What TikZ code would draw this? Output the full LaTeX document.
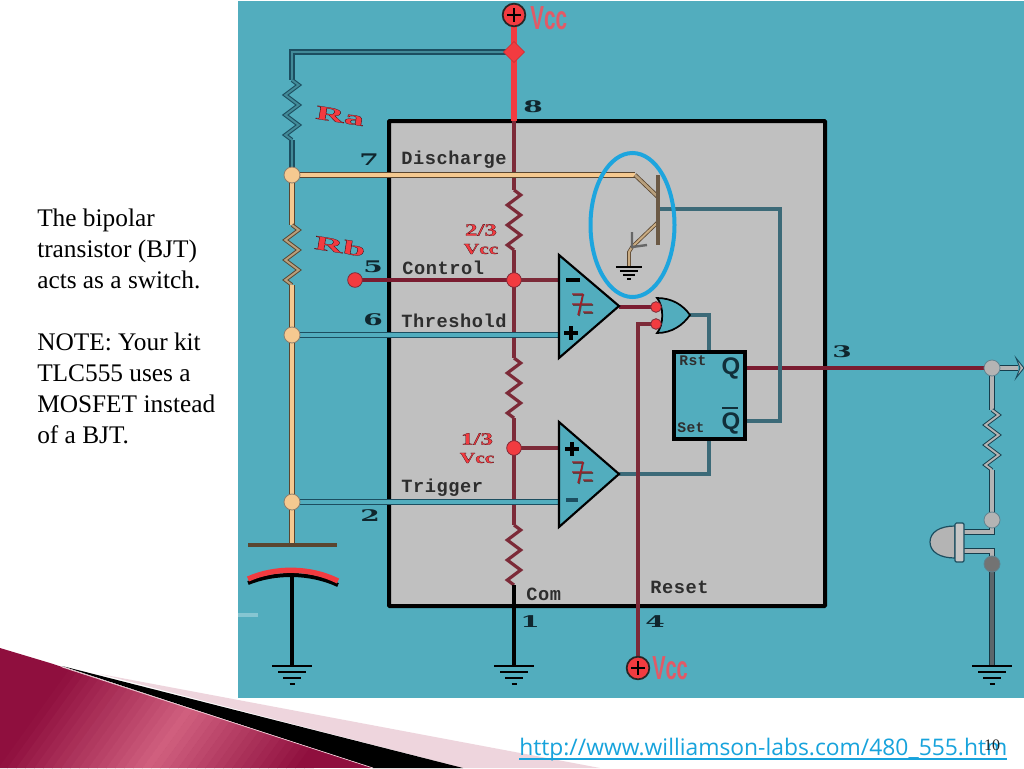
\documentclass[tikz,border=0pt]{standalone}
\usepackage{fontspec}
\usetikzlibrary{decorations.pathmorphing,shapes.geometric,calc}
\setmainfont{Liberation Serif}
\newfontfamily\labfont[LetterSpace=3]{Liberation Mono}
\newfontfamily\pinfont{DejaVu Serif}
\newfontfamily\urlfont{Open Sans}
\newfontfamily\sfnfont{Liberation Sans}
\newfontfamily\outfont[UprightFont=* Bold,FakeBold=1]{Liberation Serif}
\newcommand{\outred}[1]{\special{pdf:bcolor [0.95 0.23 0.25] [0.2 0.02 0.05]}#1\special{pdf:ecolor}}
\definecolor{tealbg}{HTML}{52ADBE}
\definecolor{greybox}{HTML}{C0C0C0}
\definecolor{vred}{HTML}{F23B40}
\definecolor{dred}{HTML}{7C2A38}
\definecolor{qred}{HTML}{7A1C30}
\definecolor{dteal}{HTML}{1C4E60}
\definecolor{mteal}{HTML}{3C6A78}
\definecolor{peach}{HTML}{F5C990}
\definecolor{tan}{HTML}{B89F7C}
\definecolor{brown}{HTML}{5A4630}
\definecolor{ringblue}{HTML}{1DA5DE}
\definecolor{linkblue}{HTML}{17A3DC}
\definecolor{labelgrey}{HTML}{2E2E2E}
\definecolor{pinblack}{HTML}{10262E}
\definecolor{vcctext}{HTML}{E25A66}
\definecolor{pinkband}{HTML}{EED5DD}
\definecolor{wine}{HTML}{8F0F3E}
\definecolor{wineb}{HTML}{D0607F}
\definecolor{ledgrey}{HTML}{B4B4B4}
\definecolor{outgrey}{HTML}{5C666A}
\pgfdeclarelayer{bg}\pgfdeclarelayer{wirelayer}
\pgfsetlayers{bg,wirelayer,main}
\tikzset{
  wirepeach/.style={draw=brown,double=peach,double distance=3pt,line width=.9pt},
  zigpeach/.style={draw=brown,double=tan,double distance=1.5pt,line width=.7pt,decoration={zigzag,segment length=15pt,amplitude=5pt},decorate},
  wiresig/.style={draw=dteal,double=tealbg,double distance=2.6pt,line width=1.1pt},
  wirera/.style={draw=dteal,double=tealbg!80!black,double distance=2.2pt,line width=1pt},
  zigra/.style={draw=dteal,double=tealbg!80!black,double distance=1.5pt,line width=.8pt,decoration={zigzag,segment length=15pt,amplitude=5pt},decorate},
  wireout/.style={draw=dteal!80!black,double=ledgrey,double distance=2.6pt,line width=1pt},
  zigout/.style={draw=dteal!80!black,double=ledgrey,double distance=1.5pt,line width=.7pt,decoration={zigzag,segment length=15pt,amplitude=5pt},decorate},
  wiredred/.style={draw=dred,line width=3pt},
  zigdred/.style={draw=dred,line width=2.4pt,decoration={zigzag,segment length=15pt,amplitude=5pt},decorate},
  wireq/.style={draw=qred,line width=3pt},
  wireteal/.style={draw=mteal,line width=3pt},
  wirevcc/.style={draw=vred,line width=4pt},
  pdot/.style={circle,draw=brown!70,fill=peach,line width=.6pt,minimum size=12pt,inner sep=0pt},
  rdot/.style={circle,draw=dred,fill=vred,line width=.6pt,minimum size=11pt,inner sep=0pt},
  gdot/.style={circle,draw=dteal!70,fill=ledgrey,line width=.6pt,minimum size=12pt,inner sep=0pt},
  vccdot/.style={circle,draw=black!85,fill=vred,line width=1.3pt,minimum size=17pt,inner sep=0pt},
  boxlabel/.style={anchor=west,inner sep=0pt,text=labelgrey,font=\labfont\bfseries\fontsize{14}{14}\selectfont},
  pinlabel/.style={inner sep=0pt,text=pinblack,font=\pinfont\bfseries\fontsize{12}{12}\selectfont},
  redlabel/.style={inner sep=0pt,font=\outfont\fontsize{#1}{#1}\selectfont},
  cmpfill/.style={fill=tealbg,draw=black,line width=1.6pt,line join=miter},
  gnd/.pic={
    \draw[black,line width=1.9pt] (-20,0)--(20,0);
    \draw[black,line width=1.9pt] (-14,6)--(14,6);
    \draw[black,line width=1.7pt] (-9,12)--(9,12);
    \draw[black,line width=1.9pt] (-2.5,18)--(2.5,18);
  },
  hyst/.pic={
    \draw[black!70,line width=1.2pt] (-9,-9)--(2,-9) (1,-9)--(-3,12) (-9,1)--(11,1) (2,9)--(11,9);
    \draw[dred!70!red,line width=1.1pt] (-10,-10)--(1,-10) (1,-10)--(-4,11) (-10,0)--(10,0) (1,8)--(10,8);
  },
}
\newcommand{\plusmark}[3]{\draw[black,line width=#3] ($(#1,#2)+(-7,0)$)--($(#1,#2)+(7,0)$) ($(#1,#2)+(0,-7)$)--($(#1,#2)+(0,7)$);}
\begin{document}
\begin{tikzpicture}[x=0.75pt,y=-0.75pt]
\useasboundingbox (0,0) rectangle (1024,768);
\begin{pgfonlayer}{bg}
  \fill[white] (0,0) rectangle (1024,768);
  \fill[tealbg] (238,1) rectangle (1024,698);
  \fill[pinkband] (100,674) -- (600,768) -- (463,768) -- cycle;
  \fill[black] (62,666) -- (463,768) -- (373,768) -- cycle;
  \begin{scope}
    \clip (0,648) -- (50,663) -- (373,768) -- (0,768) -- cycle;
    \fill[wine] (0,640) rectangle (380,768);
    \foreach \i in {0,...,34}{
      \pgfmathsetmacro{\xb}{-2+\i*9}
      \pgfmathsetmacro{\pct}{max(0,100-abs(\xb-143)/1.5)}
      \fill[wineb!\pct!wine] (\xb,768.5) -- (\xb+9.5,768.5) -- (\xb+9.5+96,635) -- (\xb+96,635) -- cycle;
    }
  \end{scope}
  \draw[white!70!wineb,line width=.5pt] (62,667) -- (373,768);
  \fill[tealbg!70!white] (238,613) rectangle (258,617);
  \draw[fill=greybox,draw=black,line width=3pt,rounded corners=.5pt] (389,121) rectangle (825,606);
\end{pgfonlayer}

% junctions and terminals
\node[vccdot] (vtop) at (514,15) {};
\node[diamond,fill=vred,draw=vred!80!black,minimum size=16pt,inner sep=0pt] (dtop) at (514,52) {};
\node[pdot] (jdis) at (292,175) {};
\node[pdot] (jthr) at (292,335) {};
\node[pdot] (jtrg) at (292,502) {};
\node[rdot] (jctl) at (355,280) {};
\node[rdot] (jtwo) at (514,280) {};
\node[rdot] (jone) at (514,448) {};
\node[vccdot] (vbot) at (638,668) {};
\node[gdot] (jout) at (992,368) {};
\node[gdot] (jledA) at (992,520) {};
\node[gdot,fill=black!55] (jledB) at (992,564) {};

\coordinate (raCorner) at (292,52);
\coordinate (raT) at (292,80);
\coordinate (raB) at (292,140);
\coordinate (rbT) at (292,225);
\coordinate (rbB) at (292,285);
\coordinate (plateA) at (292,545);
\coordinate (plateB) at (292,572);
\coordinate (g1) at (292,666);
\coordinate (g2) at (514,666);
\coordinate (g3) at (992,666);
\coordinate (boxTop) at (514,121);
\coordinate (r1T) at (514,190);
\coordinate (r1B) at (514,250);
\coordinate (r2T) at (514,358);
\coordinate (r2B) at (514,418);
\coordinate (r3T) at (514,525);
\coordinate (r3B) at (514,585);
\coordinate (cAminus) at (559,280);
\coordinate (cAplus) at (559,335);
\coordinate (cAout) at (619,307);
\coordinate (orA) at (656,307);
\coordinate (orB) at (656,324);
\coordinate (cBplus) at (559,448);
\coordinate (cBminus) at (559,502);
\coordinate (cBout) at (619,474);
\coordinate (orOut) at (690,315);
\coordinate (orBend) at (709,315);
\coordinate (ffRst) at (709,352);
\coordinate (ffSet) at (709,439);
\coordinate (setBend) at (709,474);
\coordinate (resetBend) at (638,324);
\coordinate (colBend) at (635,175);
\coordinate (colEnd) at (658,197);
\coordinate (baseOut) at (660,209);
\coordinate (baseBend) at (780,209);
\coordinate (qbarBend) at (780,421);
\coordinate (ffQbar) at (745,421);
\coordinate (ffQ) at (745,368);
\coordinate (emTop) at (658,222);
\coordinate (emMid) at (632,247);
\coordinate (emLow) at (629,252);
\coordinate (g4) at (629,267);
\coordinate (outTip) at (1018,368);
\coordinate (rlT) at (992,410);
\coordinate (rlB) at (992,470);
\coordinate (pinAa) at (963,532);
\coordinate (pinAb) at (992,532);
\coordinate (pinBa) at (963,551);
\coordinate (pinBb) at (992,551);

\begin{pgfonlayer}{wirelayer}
  % divider
  \draw[wiredred] (boxTop) -- (r1T);
  \draw[zigdred] (r1T) -- (r1B);
  \draw[wiredred] (r1B) -- (jtwo.center) -- (r2T);
  \draw[zigdred] (r2T) -- (r2B);
  \draw[wiredred] (r2B) -- (jone.center) -- (r3T);
  \draw[zigdred] (r3T) -- (r3B);
  \draw[black,line width=3pt] (r3B) -- (g2);
  \draw[wirevcc] (vtop.center) -- (boxTop);
  % Ra, Rb
  \draw[wirera] (dtop.center) -- (raCorner) -- (raT);
  \draw[zigra] (raT) -- (raB);
  \draw[wirera] (raB) -- (jdis.center);
  \draw[wirepeach] (jdis.center) -- (rbT);
  \draw[zigpeach] (rbT) -- (rbB);
  \draw[wirepeach] (rbB) -- (jthr.center) -- (jtrg.center) -- (plateA);
  \draw[black,line width=3pt] (plateB) -- (g1);
  % discharge
  \draw[wirepeach] (jdis.center) -- (colBend);
  \draw[draw=brown,double=tan,double distance=2pt,line width=.6pt] (colBend) -- (colEnd);
  \draw[draw=brown,double=tan!70!peach,double distance=1.5pt,line width=.6pt] (emTop) -- (emMid) -- (emLow) -- (g4);
  % signal lines
  \draw[wireq] (jctl.center) -- (cAminus);
  \draw[wiredred] (jtwo.center) -- (cAminus);
  \draw[wiredred] (jone.center) -- (cBplus);
  \draw[wireq] (ffQ) -- (jout.center);
  \draw[wiresig] (jthr.center) -- (cAplus);
  \draw[wiresig] (jtrg.center) -- (cBminus);
  \draw[wireq] (cAout) -- (orA);
  \draw[wireteal] (cBout) -- (setBend) -- (ffSet);
  \draw[wiredred] (orB) -- (resetBend) -- (vbot.center);
  \draw[wireteal] (orOut) -- (orBend) -- (ffRst);
  \draw[wireteal] (baseOut) -- (baseBend) -- (qbarBend) -- (ffQbar);
  % output branch
  \draw[wireout] (jout.center) -- (outTip);
  \draw[wireout] (jout.center) -- (rlT);
  \draw[zigout] (rlT) -- (rlB);
  \draw[wireout] (rlB) -- (jledA.center);
  \draw[draw=dteal!70!black,double=outgrey,double distance=3pt,line width=1pt] (jledB.center) -- (g3);
  \draw[wireout] (jledA.center) -- (pinAb) -- (pinAa);
  \draw[wireout] (jledB.center) -- (pinBb) -- (pinBa);
\end{pgfonlayer}

% crossings
\draw[wireteal] (780,360) -- (780,376);
\draw[wiredred] (638,466) -- (638,482);

% plus signs
\plusmark{514}{15}{2.2pt}
\plusmark{638}{668}{2.2pt}

% output tip
\fill[ledgrey,draw=dteal,line width=.7pt] (1016,358) -- (1024,368) -- (1016,378) -- (1020,368) -- cycle;

% capacitor
\draw[draw=brown,line width=2.6pt] (248,545) -- (337,545);
\draw[black,line width=3pt] (248,583) .. controls (275,572) and (310,572) .. (338,585);
\draw[vred,line width=4pt] (248,579) .. controls (275,567) and (310,567) .. (338,581);

% comparators
\draw[cmpfill] (559,255) -- (619,306) -- (559,358) -- cycle;
\draw[cmpfill] (559,422) -- (619,474) -- (559,527) -- cycle;
\draw[black,line width=2.4pt] (566,280) -- (580,280);
\plusmark{571}{333}{2.4pt}
\plusmark{572}{449}{2.4pt}
\draw[dteal,line width=2.4pt] (566,500) -- (578,500);
\pic at (582,304) {hyst};
\pic at (582,472) {hyst};

% OR gate
\draw[fill=tealbg,draw=black,line width=1.3pt] (657,298) .. controls (672,298) and (683,305) .. (690,315) .. controls (683,325) and (672,333) .. (657,333) .. controls (664,325) and (664,306) .. (657,298) -- cycle;
\node[rdot,minimum size=8pt] (orDotA) at (orA) {};
\node[rdot,minimum size=8pt] (orDotB) at (orB) {};

% flip-flop
\draw[fill=tealbg,draw=black,line width=3pt] (674,352) rectangle (745,439);
\node[boxlabel,font=\labfont\bfseries\fontsize{11}{11}\selectfont] (lrst) at (679,361) {Rst};
\node[boxlabel,font=\labfont\bfseries\fontsize{11}{11}\selectfont] (lset) at (677,428) {Set};
\node[inner sep=0pt,text=dteal!60!black,font=\sfnfont\bfseries\fontsize{18}{18}\selectfont] (lq) at (731,368) {Q};
\node[inner sep=0pt,text=dteal!60!black,font=\sfnfont\bfseries\fontsize{18}{18}\selectfont] (lqb) at (731,423) {Q};
\draw[dteal!60!black,line width=1.5pt] (722,408) -- (738,408);

% transistor
\draw[draw=brown!90,line width=3pt] (658,175) -- (658,245);
\draw[draw=black!60,line width=1.8pt] (632,232) -- (632,247) -- (647,245);

% ground symbols
\pic at (g1) {gnd};
\pic at (g2) {gnd};
\pic at (g3) {gnd};
\pic[scale=.66] at (g4) {gnd};

% LED
\draw[fill=ledgrey,draw=dteal,line width=.9pt] (955,526) .. controls (940,526) and (930,532) .. (930,542) .. controls (930,552) and (940,558) .. (955,558) -- cycle;
\draw[fill=greybox!90!white,draw=dteal,line width=.9pt,rounded corners=1pt] (955,523) rectangle (964,562);

% highlight ring
\draw[ringblue,line width=3pt] (632.5,225) ellipse [x radius=42,y radius=72];

% pin and box labels
\node[pinlabel] (p8) at (533,107) {\scalebox{1.75}[1]{8}};
\node[pinlabel] (p7) at (369,160) {\scalebox{1.75}[1]{7}};
\node[pinlabel] (p5) at (373,267) {\scalebox{1.75}[1]{5}};
\node[pinlabel] (p6) at (373,320) {\scalebox{1.75}[1]{6}};
\node[pinlabel] (p2) at (370,516) {\scalebox{1.75}[1]{2}};
\node[pinlabel] (p1) at (530,622) {\scalebox{1.75}[1]{1}};
\node[pinlabel] (p4) at (655,622) {\scalebox{1.75}[1]{4}};
\node[pinlabel] (p3) at (842,352) {\scalebox{1.75}[1]{3}};
\node[boxlabel] (ldis) at (401,160) {Discharge};
\node[boxlabel] (lctl) at (402,268) {Control};
\node[boxlabel] (lthr) at (401,321) {Threshold};
\node[boxlabel] (ltrg) at (401,488) {Trigger};
\node[boxlabel] (lcom) at (526,594) {Com};
\node[boxlabel] (lrsv) at (650,587) {Reset};

% red labels
\node[redlabel=15,rotate=-9] (lra) at (340,116) {\scalebox{2}[1]{\outred{Ra}}};
\node[redlabel=15,rotate=-9] (lrb) at (340,246) {\scalebox{2}[1]{\outred{Rb}}};
\node[redlabel=13] (lt) at (481,230) {\scalebox{1.45}[1]{\outred{2/3}}};
\node[redlabel=11.5] (ltv) at (481,249) {\scalebox{1.4}[1]{\outred{Vcc}}};
\node[redlabel=13] (lo) at (477,439) {\scalebox{1.45}[1]{\outred{1/3}}};
\node[redlabel=11.5] (lov) at (477,458) {\scalebox{1.4}[1]{\outred{Vcc}}};
\node[inner sep=0pt,anchor=west,text=vcctext,font=\sfnfont\bfseries\fontsize{25}{25}\selectfont] (ltopv) at (530,18) {\scalebox{.62}[1]{Vcc}};
\node[inner sep=0pt,anchor=west,text=vcctext,font=\sfnfont\bfseries\fontsize{25}{25}\selectfont] (lbotv) at (652,668) {\scalebox{.6}[1]{Vcc}};

% slide text
\node[anchor=north west,inner sep=0pt,align=left,font=\fontsize{19}{23.25}\selectfont] (body) at (37,209) {The bipolar\\transistor (BJT)\\acts as a switch.\\\mbox{}\\NOTE: Your kit\\TLC555 uses a\\MOSFET instead\\of a BJT.};
\node[anchor=base west,inner sep=0pt,text=linkblue,font=\urlfont\fontsize{18}{18}\selectfont] (url) at (519,755) {\resizebox{366pt}{!}{http://www.williamson-labs.com/480\_555.htm}};
\draw[linkblue,line width=1pt] (519,759) -- (1007,759);
\node[inner sep=0pt,font=\fontsize{12}{12}\selectfont,text=black!85] (pg) at (992,745) {10};
\end{tikzpicture}
\end{document}
